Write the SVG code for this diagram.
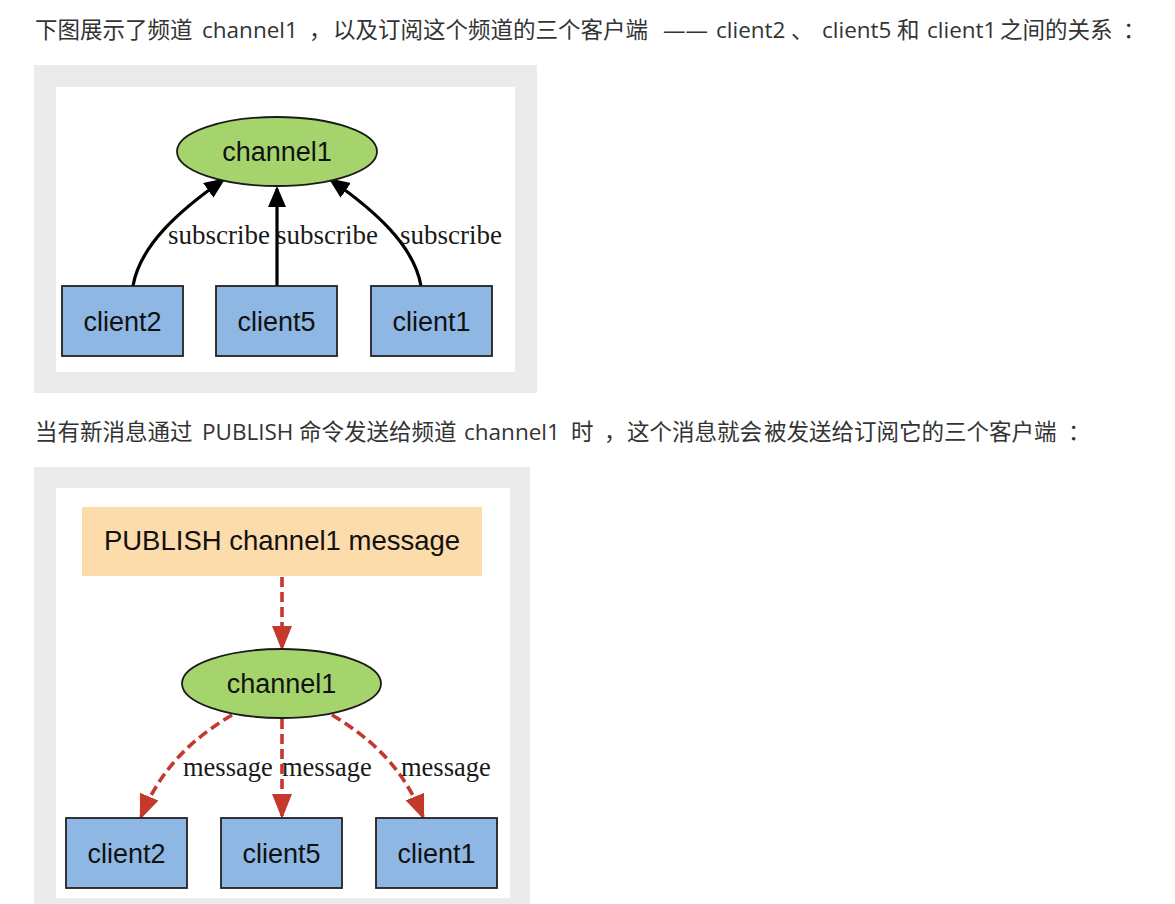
<svg xmlns="http://www.w3.org/2000/svg" width="1175" height="904" viewBox="0 0 1175 904">
<style>
.bg{fill:#ffffff}
.frame{fill:#ebebec}
.inner{fill:#ffffff}
.hdr{font-family:"Open Sans","Noto Sans CJK SC",sans-serif;font-size:22.5px;fill:#333333}
.box{fill:#8fb7e4;stroke:#222222;stroke-width:1.8}
.ell{fill:#a6d46c;stroke:#1a1a1a;stroke-width:1.8}
.pub{fill:#fddcab}
.nt{font-family:"Liberation Sans",Arial,sans-serif;font-size:27px;fill:#111111;text-anchor:middle}
.pt{font-size:27.5px}
.lbl{font-family:"Liberation Serif","Times New Roman",serif;font-size:26.5px;fill:#1a1a1a}
.ls{font-size:27px}
.sub{fill:none;stroke:#000000;stroke-width:3.2}
.msg{fill:none;stroke:#c4392b;stroke-width:3.6;stroke-dasharray:10,5}
</style>
<defs>
<marker id="ab" markerUnits="userSpaceOnUse" markerWidth="22" markerHeight="20" refX="18" refY="9" orient="auto" viewBox="0 0 22 20">
<path d="M0,0 L21,9 L0,18 Z" fill="#000000"/>
</marker>
<marker id="ar" markerUnits="userSpaceOnUse" markerWidth="27" markerHeight="22" refX="22" refY="10" orient="auto" viewBox="0 0 27 22">
<path d="M0,0 L25,10 L0,20 Z" fill="#c4392b"/>
</marker>
</defs>
<rect class="bg" x="0" y="0" width="1175" height="904"/>

<g id="header1">
<text class="hdr" y="38"><tspan x="35">下图展示了频道</tspan><tspan x="202">channel1</tspan><tspan x="309">，</tspan><tspan x="333">以及订阅这个频道的三个客户端</tspan><tspan x="663">——</tspan><tspan x="716">client2</tspan><tspan x="791">、</tspan><tspan x="822">client5</tspan><tspan x="897">和</tspan><tspan x="927">client1</tspan><tspan x="1000">之间的关系</tspan><tspan x="1123">：</tspan></text>
</g>

<g id="figure1">
<rect class="frame" x="34" y="65" width="503" height="328"/>
<rect class="inner" x="56" y="87" width="459" height="285"/>
</g>

<g id="connectors1">
<path class="sub" d="M133,286 C140,245 180,210 223,180" marker-end="url(#ab)"/>
<path class="sub" d="M277,286 L277,189" marker-end="url(#ab)"/>
<path class="sub" d="M421,286 C414,245 374,210 331,180" marker-end="url(#ab)"/>
<text class="lbl ls" x="168" y="244">subscribe</text>
<text class="lbl ls" x="276" y="244">subscribe</text>
<text class="lbl ls" x="400" y="244">subscribe</text>
</g>

<g id="channel1-top">
<ellipse class="ell" cx="277" cy="151.5" rx="100" ry="34.5"/>
<text class="nt" x="277" y="160.5">channel1</text>
</g>
<g id="client2-top">
<rect class="box" x="62" y="286" width="121" height="70"/>
<text class="nt" x="122.5" y="330.5">client2</text>
</g>
<g id="client5-top">
<rect class="box" x="216" y="286" width="121" height="70"/>
<text class="nt" x="276.5" y="330.5">client5</text>
</g>
<g id="client1-top">
<rect class="box" x="371" y="286" width="121" height="70"/>
<text class="nt" x="431.5" y="330.5">client1</text>
</g>

<g id="header2">
<text class="hdr" y="440"><tspan x="35">当有新消息通过</tspan><tspan x="202">PUBLISH</tspan><tspan x="299">命令发送给频道</tspan><tspan x="464">channel1</tspan><tspan x="571">时</tspan><tspan x="604">，</tspan><tspan x="627">这个消息就会</tspan><tspan x="764">被发送给订阅它的三个客户端</tspan><tspan x="1068">：</tspan></text>
</g>

<g id="figure2">
<rect class="frame" x="34" y="467" width="496" height="437"/>
<rect class="inner" x="56" y="488" width="454" height="410"/>
</g>

<g id="publish">
<rect class="pub" x="82" y="507" width="400" height="69"/>
<text class="nt pt" x="282" y="550">PUBLISH channel1 message</text>
</g>

<g id="connectors2">
<path class="msg" d="M282,577 L282,648" marker-end="url(#ar)"/>
<path class="msg" d="M232,715 C190,740 160,770 141,817" marker-end="url(#ar)"/>
<path class="msg" d="M282,719 L282,816" marker-end="url(#ar)"/>
<path class="msg" d="M332,715 C374,740 404,770 423,817" marker-end="url(#ar)"/>
<text class="lbl" x="183" y="776">message</text>
<text class="lbl" x="282" y="776">message</text>
<text class="lbl" x="401" y="776">message</text>
</g>

<g id="channel1-bottom">
<ellipse class="ell" cx="281.5" cy="683.5" rx="99.5" ry="34.5"/>
<text class="nt" x="281.5" y="692.5">channel1</text>
</g>
<g id="client2-bottom">
<rect class="box" x="66" y="818" width="121" height="70"/>
<text class="nt" x="126.5" y="862.5">client2</text>
</g>
<g id="client5-bottom">
<rect class="box" x="221" y="818" width="121" height="70"/>
<text class="nt" x="281.5" y="862.5">client5</text>
</g>
<g id="client1-bottom">
<rect class="box" x="376" y="818" width="121" height="70"/>
<text class="nt" x="436.5" y="862.5">client1</text>
</g>
</svg>
